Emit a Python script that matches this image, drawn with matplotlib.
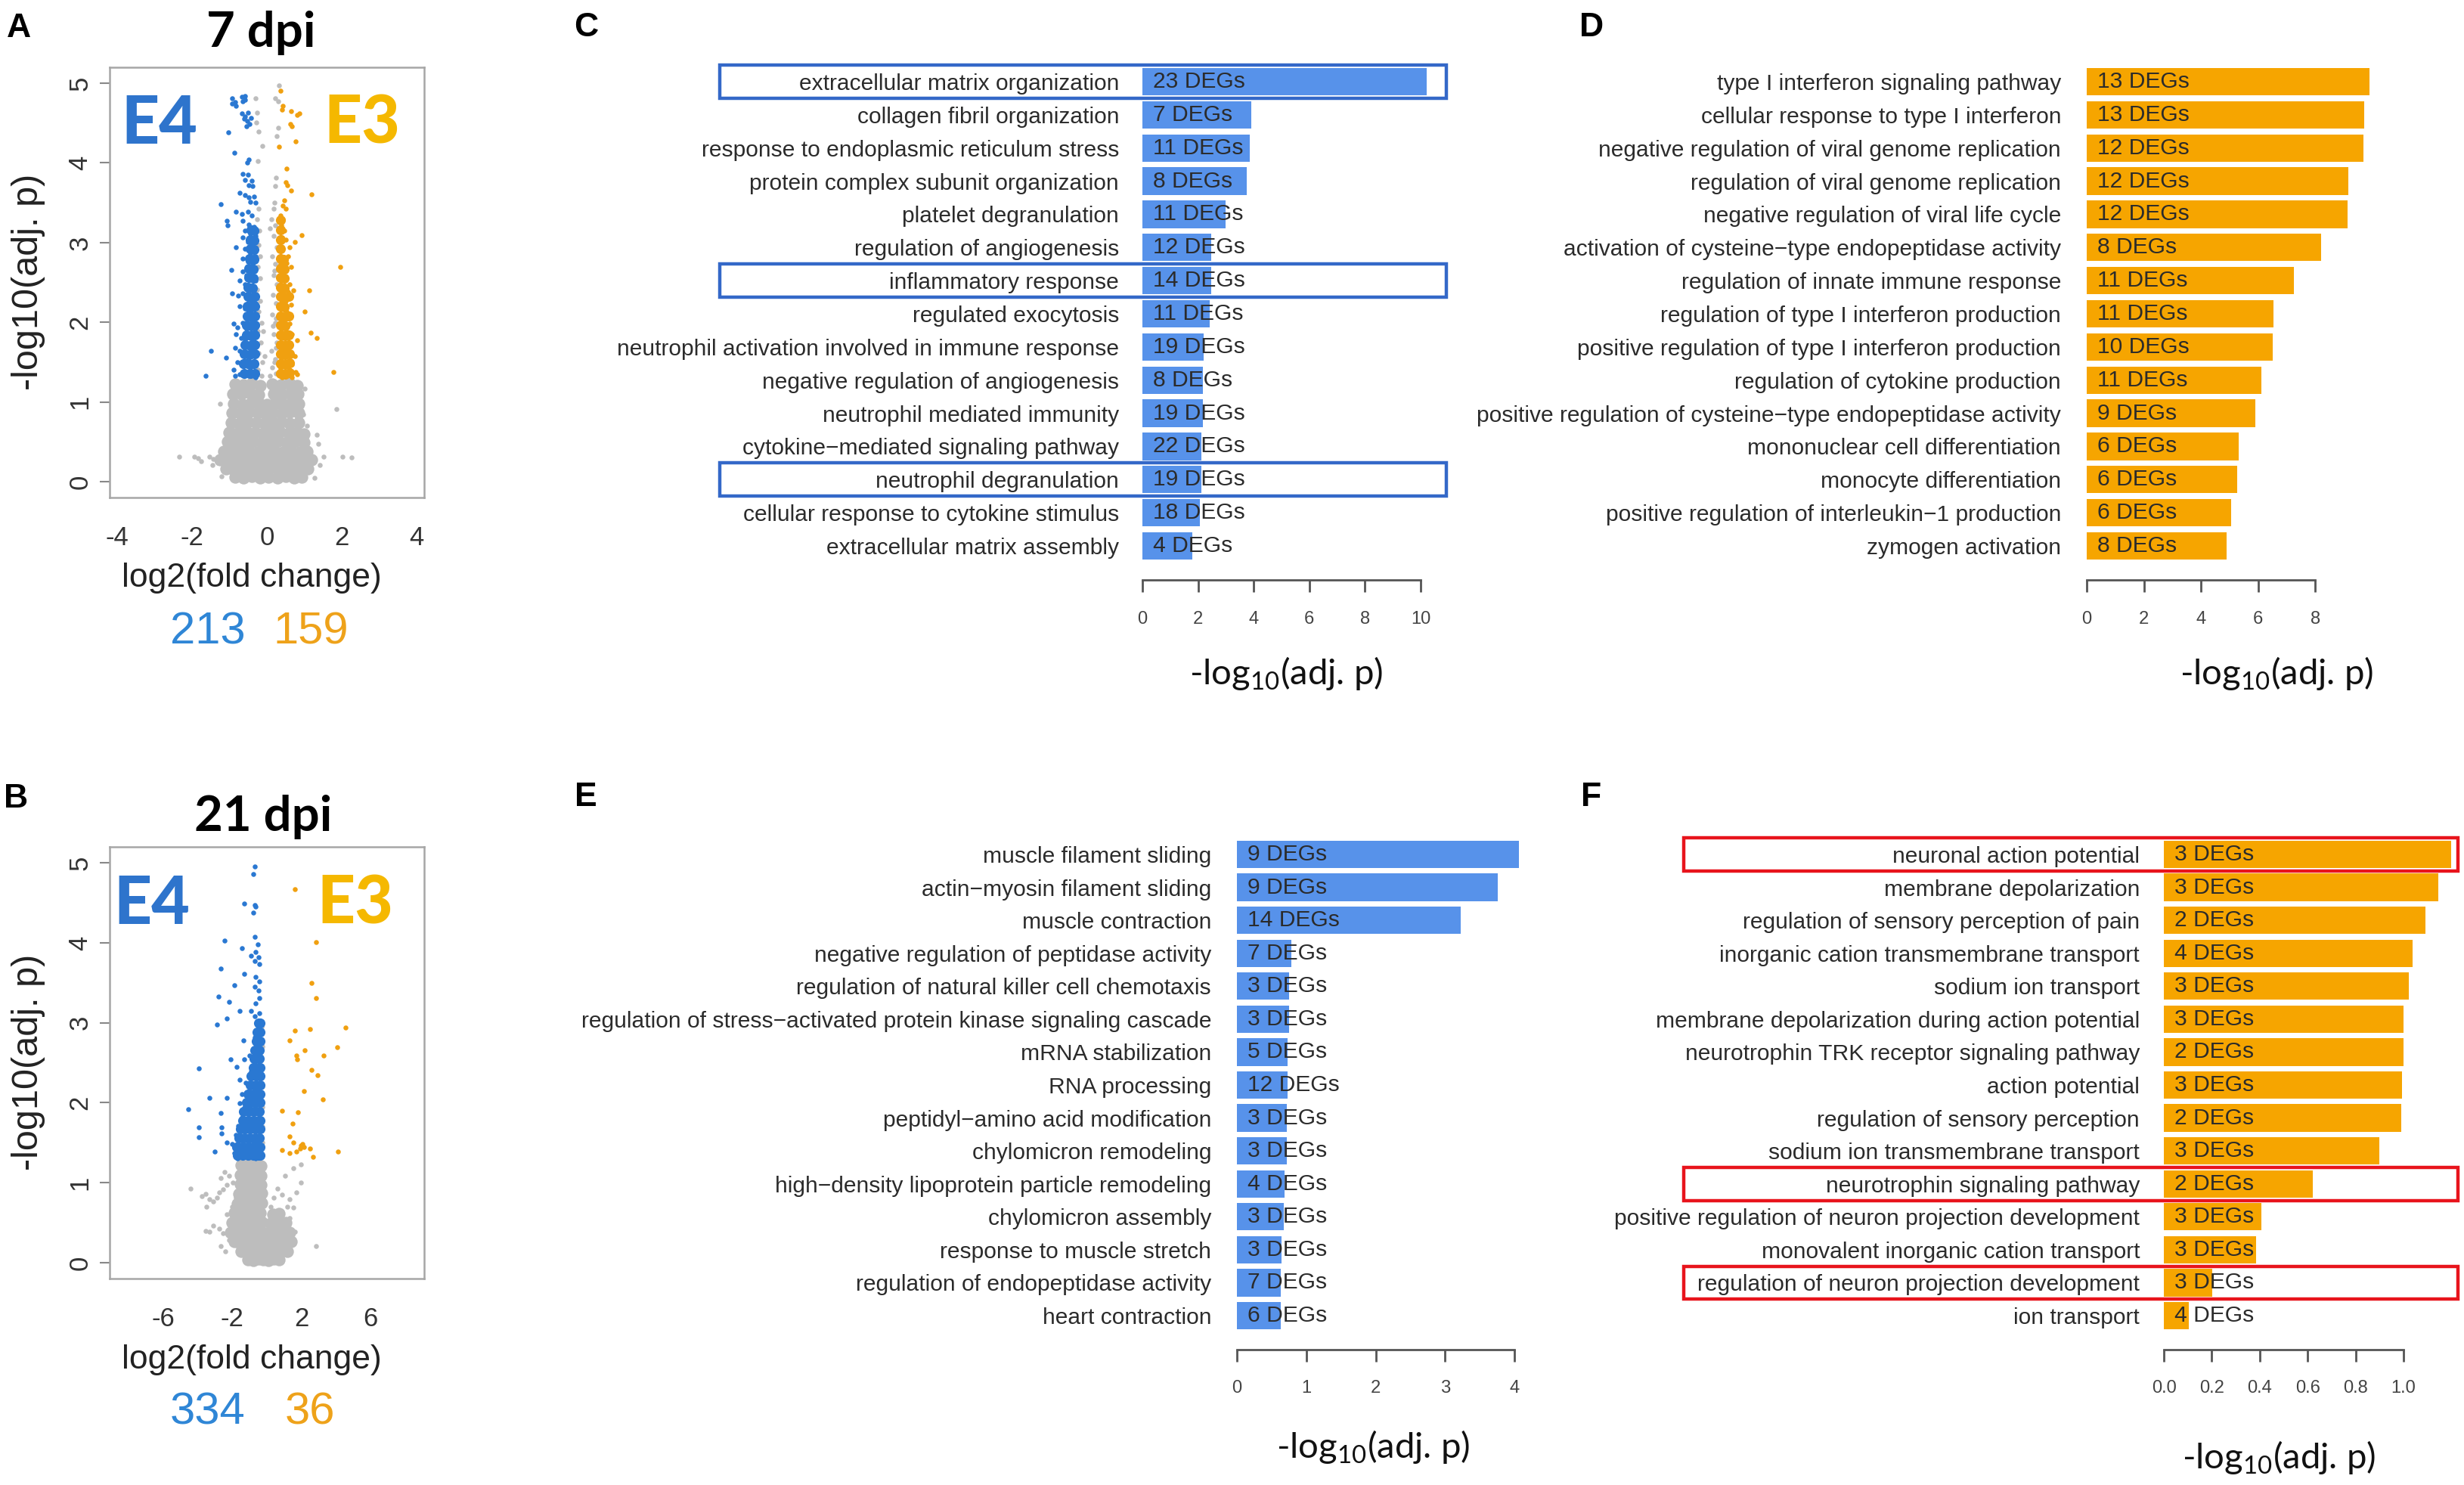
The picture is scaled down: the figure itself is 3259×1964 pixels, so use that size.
import numpy as np
import matplotlib
matplotlib.use("Agg")
import matplotlib.pyplot as plt
from matplotlib.patches import Rectangle
from matplotlib import font_manager as fm
import matplotlib.transforms as mtrans

# ---------------------------------------------------------------- data
c_terms = ["extracellular matrix organization", "collagen fibril organization",
           "response to endoplasmic reticulum stress", "protein complex subunit organization",
           "platelet degranulation", "regulation of angiogenesis", "inflammatory response",
           "regulated exocytosis", "neutrophil activation involved in immune response",
           "negative regulation of angiogenesis", "neutrophil mediated immunity",
           "cytokine\u2212mediated signaling pathway", "neutrophil degranulation",
           "cellular response to cytokine stimulus", "extracellular matrix assembly"]
c_vals = [10.22, 3.92, 3.86, 3.76, 2.99, 2.48, 2.48, 2.42, 2.21, 2.17, 2.17, 2.13, 2.13, 2.06, 1.80]
c_degs = [23, 7, 11, 8, 11, 12, 14, 11, 19, 8, 19, 22, 19, 18, 4]
c_boxes = [0, 6, 12]

d_terms = ["type I interferon signaling pathway", "cellular response to type I interferon",
           "negative regulation of viral genome replication", "regulation of viral genome replication",
           "negative regulation of viral life cycle",
           "activation of cysteine\u2212type endopeptidase activity",
           "regulation of innate immune response", "regulation of type I interferon production",
           "positive regulation of type I interferon production", "regulation of cytokine production",
           "positive regulation of cysteine\u2212type endopeptidase activity",
           "mononuclear cell differentiation", "monocyte differentiation",
           "positive regulation of interleukin\u22121 production", "zymogen activation"]
d_vals = [9.89, 9.72, 9.67, 9.15, 9.12, 8.21, 7.24, 6.54, 6.52, 6.11, 5.91, 5.32, 5.27, 5.05, 4.90]
d_degs = [13, 13, 12, 12, 12, 8, 11, 11, 10, 11, 9, 6, 6, 6, 8]

e_terms = ["muscle filament sliding", "actin\u2212myosin filament sliding", "muscle contraction",
           "negative regulation of peptidase activity", "regulation of natural killer cell chemotaxis",
           "regulation of stress\u2212activated protein kinase signaling cascade", "mRNA stabilization",
           "RNA processing", "peptidyl\u2212amino acid modification", "chylomicron remodeling",
           "high\u2212density lipoprotein particle remodeling", "chylomicron assembly",
           "response to muscle stretch", "regulation of endopeptidase activity", "heart contraction"]
e_vals = [4.06, 3.76, 3.22, 0.78, 0.75, 0.75, 0.73, 0.73, 0.72, 0.72, 0.69, 0.67, 0.64, 0.63, 0.63]
e_degs = [9, 9, 14, 7, 3, 3, 5, 12, 3, 3, 4, 3, 3, 7, 6]

f_terms = ["neuronal action potential", "membrane depolarization",
           "regulation of sensory perception of pain", "inorganic cation transmembrane transport",
           "sodium ion transport", "membrane depolarization during action potential",
           "neurotrophin TRK receptor signaling pathway", "action potential",
           "regulation of sensory perception", "sodium ion transmembrane transport",
           "neurotrophin signaling pathway", "positive regulation of neuron projection development",
           "monovalent inorganic cation transport", "regulation of neuron projection development",
           "ion transport"]
f_vals = [1.198, 1.144, 1.090, 1.038, 1.021, 1.001, 0.999, 0.994, 0.989, 0.898, 0.620, 0.406, 0.386, 0.202, 0.103]
f_degs = [3, 3, 2, 4, 3, 3, 2, 3, 2, 3, 2, 3, 3, 3, 4]
f_boxes = [0, 10, 13]

c_ticks = [0, 2, 4, 6, 8, 10]
d_ticks = [0, 2, 4, 6, 8]
e_ticks = [0, 1, 2, 3, 4]
f_ticks = [0.0, 0.2, 0.4, 0.6, 0.8, 1.0]

# volcano 7 dpi (log2 fold change, -log10 adj p)
a_gray = [(0.33, 4.97), (0.23, 4.81), (0.30, 4.77), (-0.31, 4.81), (-0.26, 4.63), (-0.28, 4.51),
          (-0.23, 4.39), (-0.12, 4.21), (-0.24, 4.02), (0.26, 4.34), (0.30, 4.44), (0.24, 3.81),
          (0.22, 3.71), (0.20, 3.50), (0.18, 3.43), (0.09, 3.18), (-0.23, 3.43), (-0.26, 3.29),
          (-0.21, 3.15), (0.13, 3.29), (0.23, 3.22), (0.18, 3.08), (0.26, 2.94), (0.15, 2.83),
          (0.23, 2.73), (0.18, 2.59), (0.26, 2.48), (0.16, 2.34), (0.24, 2.24), (0.15, 2.10),
          (0.23, 1.99), (0.18, 1.85), (0.26, 1.75), (0.13, 1.64), (0.22, 1.54), (0.15, 1.43),
          (0.24, 1.36), (0.09, 1.33), (0.20, 2.65), (0.25, 2.05), (0.20, 1.50), (0.25, 1.68),
          (0.17, 1.95), (-0.23, 2.97), (-0.18, 2.83), (-0.24, 2.69), (-0.19, 2.55), (-0.26, 2.41),
          (-0.18, 2.27), (-0.23, 2.13), (-0.14, 1.99), (-0.24, 1.89), (-0.16, 1.75), (-0.23, 1.61),
          (-0.12, 1.50), (-0.24, 1.40), (-0.14, 1.33), (-0.11, 1.89), (-0.07, 1.57),
          (-2.34, 0.31), (-1.93, 0.31), (-1.83, 0.29), (-1.76, 0.26), (-1.53, 0.31), (-1.43, 0.28),
          (-1.46, 0.21), (-1.32, 0.24), (-1.22, 0.07), (-1.26, 0.98), (-0.95, 1.07), (-0.99, 0.73),
          (-0.95, 0.59), (-1.05, 0.42), (-1.12, 0.35), (1.85, 0.91), (2.02, 0.31), (2.26, 0.30),
          (1.34, 0.59), (1.38, 0.47), (1.28, 0.05), (1.01, 1.17), (0.84, 1.08), (0.91, 1.12),
          (1.51, 0.31), (1.41, 0.21), (1.18, 0.24), (1.11, 0.42), (1.07, 0.70), (0.97, 0.84),
          (0.91, 0.94), (0.82, 0.07), (0.80, 1.05)]
a_gray_core = [(-0.85, 1.22), (-0.62, 1.21), (-0.40, 1.23), (-0.18, 1.20), (0.15, 1.22), (0.38, 1.21),
               (0.60, 1.23), (0.80, 1.20), (-0.90, 1.10), (-0.68, 1.10), (-0.45, 1.11), (-0.22, 1.09),
               (0.18, 1.10), (0.40, 1.09), (0.62, 1.11), (0.82, 1.10), (-0.88, 0.98), (-0.65, 0.97),
               (-0.42, 0.99), (-0.20, 0.98), (0.00, 0.97), (0.20, 0.98), (0.42, 0.97), (0.65, 0.99),
               (0.85, 0.98), (-0.92, 0.86), (-0.70, 0.85), (-0.48, 0.87), (-0.25, 0.86), (-0.05, 0.85),
               (0.15, 0.86), (0.38, 0.85), (0.60, 0.87), (0.85, 0.86), (-0.95, 0.74), (-0.72, 0.73),
               (-0.50, 0.75), (-0.28, 0.74), (-0.06, 0.73), (0.16, 0.74), (0.38, 0.75), (0.60, 0.73),
               (0.85, 0.74), (-1.00, 0.62), (-0.78, 0.61), (-0.55, 0.63), (-0.32, 0.62), (-0.10, 0.61),
               (0.12, 0.62), (0.35, 0.63), (0.58, 0.61), (0.80, 0.62), (0.98, 0.60), (-1.05, 0.50),
               (-0.82, 0.49), (-0.60, 0.51), (-0.38, 0.50), (-0.15, 0.49), (0.08, 0.50), (0.30, 0.51),
               (0.52, 0.49), (0.75, 0.50), (0.98, 0.49), (-1.15, 0.38), (-0.92, 0.37), (-0.70, 0.39),
               (-0.48, 0.38), (-0.25, 0.37), (-0.02, 0.38), (0.20, 0.39), (0.42, 0.37), (0.65, 0.38),
               (0.88, 0.37), (1.08, 0.38), (-1.25, 0.27), (-1.02, 0.26), (-0.80, 0.28), (-0.58, 0.27),
               (-0.35, 0.26), (-0.12, 0.27), (0.10, 0.28), (0.32, 0.26), (0.55, 0.27), (0.78, 0.28),
               (1.00, 0.26), (1.20, 0.27), (-1.10, 0.16), (-0.88, 0.15), (-0.65, 0.17), (-0.42, 0.16),
               (-0.20, 0.15), (0.02, 0.16), (0.25, 0.17), (0.48, 0.15), (0.70, 0.16), (0.92, 0.15),
               (1.10, 0.16), (-0.85, 0.06), (-0.62, 0.05), (-0.40, 0.07), (-0.18, 0.05), (0.05, 0.06),
               (0.28, 0.05), (0.50, 0.07), (0.72, 0.05), (0.92, 0.06)]
a_blue = [(-0.92, 4.81), (-0.85, 4.76), (-0.93, 4.74), (-0.82, 4.72), (-0.66, 4.83), (-0.59, 4.84),
          (-0.58, 4.79), (-0.65, 4.77), (-0.66, 4.62), (-0.58, 4.58), (-0.50, 4.63), (-0.61, 4.55),
          (-0.53, 4.53), (-0.46, 4.49), (-0.55, 4.46), (-0.43, 4.56), (-1.03, 4.38), (-0.87, 4.13),
          (-0.48, 4.04), (-0.53, 4.00), (-0.65, 3.86), (-0.50, 3.85), (-0.58, 3.79), (-0.41, 3.78),
          (-0.48, 3.72), (-0.38, 3.71), (-0.72, 3.62), (-0.58, 3.60), (-0.48, 3.57), (-0.34, 3.58),
          (-0.45, 3.51), (-0.31, 3.50), (-1.24, 3.48), (-0.82, 3.39), (-0.66, 3.36), (-0.51, 3.39),
          (-0.40, 3.34), (-1.07, 3.27), (-1.04, 3.22), (-0.65, 3.27), (-0.48, 3.23), (-0.34, 3.20),
          (-0.58, 3.15), (-0.45, 3.11), (-0.31, 3.08), (-0.65, 3.06), (-0.51, 3.01), (-0.38, 2.97),
          (-0.83, 2.94), (-0.58, 2.92), (-0.45, 2.87), (-0.31, 2.83), (-0.65, 2.80), (-0.51, 2.76),
          (-0.38, 2.73), (-0.95, 2.66), (-0.65, 2.64), (-0.55, 2.59), (-0.41, 2.57), (-0.31, 2.52),
          (-0.72, 2.52), (-0.58, 2.48), (-0.46, 2.45), (-0.34, 2.41), (-0.92, 2.36), (-0.77, 2.33),
          (-0.65, 2.36), (-0.51, 2.31), (-0.39, 2.27), (-0.31, 2.24), (-0.72, 2.20), (-0.58, 2.17),
          (-0.45, 2.13), (-0.34, 2.10), (-0.89, 1.98), (-0.78, 1.94), (-0.65, 1.99), (-0.55, 1.92),
          (-0.43, 1.96), (-0.32, 1.91), (-0.82, 1.85), (-0.68, 1.80), (-0.58, 1.77), (-0.48, 1.84),
          (-0.38, 1.78), (-0.31, 1.73), (-0.85, 1.68), (-0.72, 1.64), (-0.61, 1.70), (-0.51, 1.61),
          (-0.41, 1.66), (-0.32, 1.59), (-1.49, 1.64), (-1.09, 1.56), (-0.89, 1.40), (-0.78, 1.50),
          (-0.65, 1.45), (-0.55, 1.52), (-0.45, 1.43), (-0.34, 1.49), (-1.63, 1.33), (-0.85, 1.33),
          (-0.72, 1.35), (-0.58, 1.36), (-0.48, 1.33), (-0.38, 1.35), (-0.31, 1.31)]
a_blue_core = [(-0.60, 1.36), (-0.45, 1.36), (-0.33, 1.36), (-0.62, 1.48), (-0.47, 1.47), (-0.34, 1.48),
               (-0.60, 1.60), (-0.46, 1.59), (-0.33, 1.60), (-0.58, 1.72), (-0.45, 1.71), (-0.33, 1.72),
               (-0.55, 1.84), (-0.43, 1.83), (-0.33, 1.84), (-0.55, 1.96), (-0.43, 1.95), (-0.33, 1.96),
               (-0.52, 2.08), (-0.40, 2.07), (-0.32, 2.08), (-0.52, 2.20), (-0.40, 2.19), (-0.32, 2.20),
               (-0.50, 2.32), (-0.40, 2.31), (-0.32, 2.32), (-0.50, 2.44), (-0.38, 2.43), (-0.48, 2.56),
               (-0.36, 2.55), (-0.48, 2.68), (-0.36, 2.67), (-0.46, 2.80), (-0.35, 2.79), (-0.45, 2.92),
               (-0.35, 2.91), (-0.44, 3.04), (-0.35, 3.03), (-0.42, 3.16), (-0.34, 3.15)]
a_orange = [(0.36, 4.91), (0.43, 4.72), (0.40, 4.67), (0.64, 4.65), (0.80, 4.60), (0.87, 4.62),
            (0.62, 4.49), (0.67, 4.46), (0.77, 4.27), (0.33, 4.20), (0.53, 3.93), (0.50, 3.76),
            (0.55, 3.72), (0.64, 3.65), (1.19, 3.61), (0.47, 3.53), (0.42, 3.46), (0.50, 3.43),
            (0.36, 3.34), (0.43, 3.29), (0.38, 3.22), (0.47, 3.15), (0.92, 3.09), (0.40, 3.06),
            (0.50, 3.04), (0.74, 3.01), (0.60, 2.94), (0.36, 2.94), (0.57, 2.83), (0.43, 2.80),
            (0.36, 2.73), (0.53, 2.74), (0.64, 2.69), (1.95, 2.69), (0.40, 2.60), (0.50, 2.55),
            (0.60, 2.48), (0.36, 2.48), (0.47, 2.41), (0.57, 2.38), (0.70, 2.40), (1.14, 2.40),
            (0.36, 2.31), (0.50, 2.27), (0.64, 2.22), (0.42, 2.17), (0.53, 2.13), (1.01, 2.13),
            (0.36, 2.08), (0.47, 2.03), (0.60, 1.98), (0.38, 1.92), (0.50, 1.89), (0.67, 1.85),
            (1.18, 1.87), (1.34, 1.80), (0.40, 1.80), (0.57, 1.75), (0.80, 1.77), (0.36, 1.68),
            (0.49, 1.64), (0.64, 1.61), (0.74, 1.57), (0.38, 1.54), (0.53, 1.50), (0.67, 1.47),
            (0.36, 1.42), (0.47, 1.38), (0.60, 1.40), (0.77, 1.38), (1.78, 1.38), (0.40, 1.31),
            (0.53, 1.33), (0.67, 1.31), (0.80, 1.35)]
a_orange_core = [(0.36, 1.36), (0.48, 1.35), (0.60, 1.37), (0.36, 1.48), (0.48, 1.47), (0.60, 1.49),
                 (0.36, 1.60), (0.48, 1.59), (0.60, 1.60), (0.36, 1.72), (0.48, 1.71), (0.58, 1.72),
                 (0.36, 1.84), (0.48, 1.83), (0.58, 1.84), (0.36, 1.96), (0.48, 1.95), (0.36, 2.08),
                 (0.48, 2.07), (0.58, 2.08), (0.36, 2.20), (0.47, 2.19), (0.36, 2.32), (0.47, 2.31),
                 (0.58, 2.32), (0.36, 2.44), (0.47, 2.43), (0.36, 2.56), (0.46, 2.55), (0.36, 2.68),
                 (0.46, 2.67), (0.36, 2.80), (0.44, 2.79), (0.36, 2.92), (0.36, 3.04), (0.36, 3.16),
                 (0.37, 3.28)]

# volcano 21 dpi
b_gray = [(-4.42, 0.93), (-3.77, 0.83), (-3.55, 0.86), (-3.33, 0.79), (-3.48, 0.70), (-3.11, 0.76),
          (-2.90, 0.81), (-2.75, 0.88), (-2.53, 0.92), (-2.46, 1.13), (-2.68, 1.06), (-2.17, 1.09),
          (-1.95, 1.00), (-2.31, 0.97), (-3.55, 0.40), (-3.33, 0.39), (-3.11, 0.46), (-2.75, 0.42),
          (-2.53, 0.37), (-2.68, 0.21), (-2.39, 0.14), (-2.17, 0.28), (-2.31, 0.60), (-2.02, 0.70),
          (-1.95, 0.53), (-1.80, 0.81), (1.03, 1.09), (1.54, 1.18), (1.98, 1.23), (1.98, 1.00),
          (1.69, 0.88), (0.60, 0.93), (0.89, 0.85), (1.32, 0.79), (1.54, 0.69), (1.32, 0.56),
          (1.62, 0.39), (2.85, 0.21), (1.32, 0.12), (0.38, 0.81), (0.23, 0.70), (1.18, 0.70),
          (-0.30, 2.95), (-0.28, 2.70), (-0.30, 2.45), (-0.27, 2.20), (-0.28, 1.95), (-0.27, 1.70),
          (-0.28, 1.50), (-0.27, 1.35)]
b_gray_core = [(-1.50, 1.22), (-1.20, 1.21), (-0.90, 1.23), (-0.60, 1.22), (-0.35, 1.21),
               (-1.55, 1.10), (-1.25, 1.09), (-0.95, 1.11), (-0.65, 1.10), (-0.35, 1.09),
               (-1.55, 0.98), (-1.25, 0.97), (-0.95, 0.99), (-0.65, 0.98), (-0.35, 0.97),
               (-1.60, 0.86), (-1.30, 0.85), (-1.00, 0.87), (-0.70, 0.86), (-0.40, 0.85), (-0.30, 0.87),
               (-1.70, 0.74), (-1.40, 0.73), (-1.10, 0.75), (-0.80, 0.74), (-0.50, 0.73), (-0.30, 0.75),
               (-1.90, 0.62), (-1.60, 0.61), (-1.30, 0.63), (-1.00, 0.62), (-0.70, 0.61), (-0.40, 0.62),
               (0.35, 0.60), (0.70, 0.61), (-2.00, 0.50), (-1.70, 0.49), (-1.40, 0.51), (-1.10, 0.50),
               (-0.80, 0.49), (-0.50, 0.50), (-0.30, 0.51), (0.20, 0.49), (0.50, 0.50), (0.80, 0.51),
               (1.10, 0.50), (-2.10, 0.38), (-1.80, 0.37), (-1.50, 0.39), (-1.20, 0.38), (-0.90, 0.37),
               (-0.60, 0.38), (-0.30, 0.39), (0.10, 0.37), (0.40, 0.38), (0.70, 0.39), (1.00, 0.37),
               (1.30, 0.38), (-1.90, 0.26), (-1.60, 0.25), (-1.30, 0.27), (-1.00, 0.26), (-0.70, 0.25),
               (-0.40, 0.26), (-0.10, 0.27), (0.20, 0.25), (0.50, 0.26), (0.80, 0.27), (1.10, 0.25),
               (1.40, 0.26), (-1.50, 0.14), (-1.20, 0.13), (-0.90, 0.15), (-0.60, 0.14), (-0.30, 0.13),
               (0.00, 0.15), (0.30, 0.14), (0.60, 0.13), (0.90, 0.15), (1.20, 0.14), (-1.10, 0.04),
               (-0.80, 0.03), (-0.50, 0.05), (-0.20, 0.04), (0.10, 0.03), (0.40, 0.05), (0.70, 0.04)]
b_blue = [(-0.71, 4.95), (-0.79, 4.86), (-1.32, 4.49), (-0.71, 4.47), (-0.79, 4.38), (-0.64, 4.45),
          (-2.46, 4.03), (-0.71, 4.07), (-0.54, 3.98), (-1.44, 3.93), (-0.64, 3.89), (-0.93, 3.84),
          (-0.49, 3.82), (-0.71, 3.77), (-0.42, 3.73), (-2.68, 3.68), (-1.30, 3.61), (-0.64, 3.57),
          (-0.42, 3.52), (-1.88, 3.47), (-0.71, 3.45), (-0.49, 3.40), (-2.82, 3.33), (-0.42, 3.31),
          (-2.20, 3.26), (-0.64, 3.24), (-1.59, 3.15), (-0.93, 3.15), (-0.42, 3.12), (-0.71, 3.08),
          (-2.34, 3.05), (-2.90, 2.98), (-0.49, 2.98), (-0.42, 2.85), (-0.71, 2.82), (-1.37, 2.78),
          (-0.42, 2.73), (-0.64, 2.66), (-1.00, 2.59), (-0.42, 2.61), (-2.10, 2.54), (-1.30, 2.54),
          (-0.71, 2.50), (-0.42, 2.46), (-3.92, 2.43), (-1.73, 2.45), (-0.93, 2.39), (-0.57, 2.36),
          (-0.35, 2.31), (-1.59, 2.29), (-1.22, 2.25), (-0.79, 2.22), (-0.49, 2.18), (-1.44, 2.11),
          (-1.00, 2.10), (-0.64, 2.06), (-0.42, 2.02), (-3.33, 2.06), (-2.34, 2.06), (-4.57, 1.92),
          (-2.68, 1.87), (-1.59, 1.99), (-1.30, 1.94), (-0.93, 1.92), (-0.57, 1.88), (-1.44, 1.81),
          (-1.08, 1.78), (-0.71, 1.76), (-0.42, 1.80), (-3.94, 1.69), (-2.61, 1.69), (-1.66, 1.71),
          (-1.30, 1.67), (-0.86, 1.65), (-0.49, 1.64), (-3.94, 1.57), (-2.61, 1.62), (-1.80, 1.60),
          (-1.44, 1.55), (-1.08, 1.53), (-0.71, 1.51), (-0.35, 1.55), (-2.31, 1.50), (-2.02, 1.48),
          (-1.66, 1.44), (-1.30, 1.43), (-0.93, 1.41), (-0.57, 1.43), (-3.04, 1.39), (-1.88, 1.37),
          (-1.51, 1.34), (-1.15, 1.32), (-0.79, 1.34), (-0.42, 1.32), (-1.70, 1.30), (-0.64, 1.30)]
b_blue_core = [(-1.70, 1.34), (-1.40, 1.34), (-1.10, 1.34), (-0.80, 1.34), (-0.50, 1.34), (-0.38, 1.34),
               (-1.75, 1.45), (-1.45, 1.45), (-1.15, 1.45), (-0.85, 1.45), (-0.55, 1.45), (-0.38, 1.45),
               (-1.60, 1.56), (-1.30, 1.56), (-1.00, 1.56), (-0.70, 1.56), (-0.42, 1.56),
               (-1.55, 1.67), (-1.25, 1.67), (-0.95, 1.67), (-0.65, 1.67), (-0.40, 1.67),
               (-1.40, 1.78), (-1.10, 1.78), (-0.80, 1.78), (-0.50, 1.78), (-0.38, 1.78),
               (-1.35, 1.89), (-1.05, 1.89), (-0.75, 1.89), (-0.45, 1.89),
               (-1.20, 2.00), (-0.90, 2.00), (-0.60, 2.00), (-0.40, 2.00),
               (-1.10, 2.11), (-0.80, 2.11), (-0.50, 2.11), (-0.38, 2.11),
               (-0.95, 2.22), (-0.65, 2.22), (-0.40, 2.22), (-0.90, 2.33), (-0.60, 2.33), (-0.40, 2.33),
               (-0.80, 2.44), (-0.50, 2.44), (-0.38, 2.44), (-0.75, 2.55), (-0.45, 2.55),
               (-0.70, 2.66), (-0.42, 2.66), (-0.60, 2.77), (-0.40, 2.77), (-0.55, 2.88), (-0.38, 2.88),
               (-0.50, 3.00), (-0.38, 3.00)]
b_orange = [(1.62, 4.67), (2.85, 4.01), (2.56, 3.50), (2.85, 3.31), (1.62, 2.90), (2.49, 2.92),
            (4.53, 2.94), (1.30, 2.78), (2.20, 2.66), (1.69, 2.59), (1.76, 2.54), (3.29, 2.59),
            (4.09, 2.69), (2.56, 2.41), (2.93, 2.34), (2.13, 2.15), (3.25, 2.04), (0.89, 1.90),
            (1.79, 1.88), (1.47, 1.74), (1.32, 1.58), (1.54, 1.50), (2.05, 1.48), (1.91, 1.43),
            (0.89, 1.41), (1.32, 1.37), (2.49, 1.43), (2.66, 1.32), (4.12, 1.39), (2.13, 1.45),
            (1.69, 1.39), (1.98, 1.46)]

# ---------------------------------------------------------------- setup
W, H, DPI = 3259, 1964, 100
PT = 72.0 / DPI

names = {f.name for f in fm.fontManager.ttflist}
SANS = "Liberation Sans" if "Liberation Sans" in names else "DejaVu Sans"
if "Liberation Sans Narrow" in names:
    NARROW, NSCALE = "Liberation Sans Narrow", 1.11
else:
    NARROW, NSCALE = SANS, 0.9
CAL = "Lato" if "Lato" in names else SANS

plt.rcParams["mathtext.default"] = "regular"
fig = plt.figure(figsize=(W / DPI, H / DPI), dpi=DPI)
fig.patch.set_facecolor("white")

TXT = "#2b2b2b"
AXC = "#555555"
LAB_FS = 24 * NSCALE
TICK_FS = 19 * NSCALE
GRAY = "#bdbdbd"
BLUE = "#2a78d2"
ORANGE = "#f0a010"


def add_ax(x0, y0, x1, y1):
    return fig.add_axes([x0 / W, 1 - y1 / H, (x1 - x0) / W, (y1 - y0) / H])


def ftext(x, y, s, **kw):
    return fig.text(x / W, 1 - y / H, s, **kw)


def bar_panel(terms, vals, degs, color, zero_px, ppu, row_top, row_bot, right_px,
              axis_px, tmax, ticks, tlabels, tick_base, gap, boxes, box_color, box_x0, box_x1,
              xlab_x, xlab_base):
    n = len(terms)
    sp = (row_bot - row_top) / (n - 1)
    top = row_top - 0.5 * sp
    bot = row_bot + 0.5 * sp
    ax = add_ax(zero_px, top, right_px, bot)
    ax.set_xlim(0, (right_px - zero_px) / ppu)
    ax.set_ylim(n - 0.5, -0.5)
    ax.patch.set_alpha(0)
    pos = np.arange(n)
    ax.barh(pos, vals, height=0.83, color=color, edgecolor="none", zorder=2)
    ax.set_yticks(pos)
    ax.set_yticklabels(terms, fontsize=LAB_FS, family=NARROW, color=TXT)
    ax.tick_params(axis="y", length=0, pad=gap * PT)
    for s in ("left", "top", "right"):
        ax.spines[s].set_visible(False)
    spb = ax.spines["bottom"]
    spb.set_position(("outward", (axis_px - bot) * PT))
    spb.set_bounds(0, tmax)
    spb.set_color(AXC)
    spb.set_linewidth(2.0)
    ax.set_xticks(ticks)
    ax.set_xticklabels([])
    ax.tick_params(axis="x", direction="out", length=16 * PT, width=2.0, color=AXC)
    tr = mtrans.blended_transform_factory(ax.transData, fig.transFigure)
    for t, l in zip(ticks, tlabels):
        ax.text(t, 1 - tick_base / H, l, transform=tr, ha="center", va="baseline",
                fontsize=TICK_FS, family=NARROW, color="#444444")
    for i, d in enumerate(degs):
        ax.annotate(f"{d} DEGs", xy=(0, i), xytext=(14 * PT, 0), textcoords="offset points",
                    ha="left", va="center", fontsize=LAB_FS, family=NARROW, color=TXT, zorder=3)
    bx0 = (box_x0 - zero_px) / ppu
    bx1 = (box_x1 - zero_px) / ppu
    for i in boxes:
        ax.add_patch(Rectangle((bx0, i - 0.5), bx1 - bx0, 1.0, fill=False, edgecolor=box_color,
                               lw=3.2, clip_on=False, zorder=4))
    ftext(xlab_x, xlab_base, "-log$_{10}$(adj. p)", ha="center", va="baseline",
          fontsize=34, family=CAL, color="#111111")
    return ax


def volcano(x0, y0, x1, y1, xlim, xticks, gray, gray_core, blue, blue_core, orange, orange_core,
            ytick_x, xtick_base):
    ax = add_ax(x0, y0, x1, y1)
    ax.set_xlim(*xlim)
    ax.set_ylim(-0.2, 5.2)

    def sc(pts, s, c):
        if len(pts) == 0:
            return
        a = np.asarray(pts, float)
        ax.scatter(a[:, 0], a[:, 1], s=s, c=c, linewidths=0, zorder=2)

    sc(gray_core, 140, GRAY)
    sc(gray, 22, GRAY)
    sc(blue_core, 90, BLUE)
    sc(blue, 22, BLUE)
    sc(orange_core, 90, ORANGE)
    sc(orange, 22, ORANGE)
    for s in ax.spines.values():
        s.set_color("#a6a6a6")
        s.set_linewidth(1.8)
    ax.set_yticks(range(6))
    ax.set_yticklabels([])
    ax.tick_params(axis="y", direction="out", length=13 * PT, width=1.5, color="#888888")
    ax.set_xticks(xticks)
    ax.set_xticklabels([])
    ax.tick_params(axis="x", length=0)
    tr_y = mtrans.blended_transform_factory(fig.transFigure, ax.transData)
    for v in range(6):
        ax.text(ytick_x / W, v, str(v), transform=tr_y, rotation=90, ha="center", va="center",
                fontsize=25, family=SANS, color="#333333")
    tr_x = mtrans.blended_transform_factory(ax.transData, fig.transFigure)
    for v in xticks:
        ax.text(v, 1 - xtick_base / H, f"{v:d}", transform=tr_x, ha="center", va="baseline",
                fontsize=25, family=SANS, color="#333333")
    return ax


# ---------------------------------------------------------------- volcano A / B
volcano(145, 89, 561, 658, (-4.2, 4.2), [-4, -2, 0, 2, 4], a_gray, a_gray_core, a_blue,
        a_blue_core, a_orange, a_orange_core, 106, 721)
volcano(145, 1120, 561, 1691, (-9.1, 9.1), [-6, -2, 2, 6], b_gray, b_gray_core, b_blue,
        b_blue_core, b_orange, [], 106, 1754)

for (x4, x3, base) in [(211, 479, 190), (201, 470, 1222)]:
    ftext(x4, base, "E4", ha="center", va="baseline", fontsize=63, fontweight=900,
          family=CAL, color="#2e74cc")
    ftext(x3, base, "E3", ha="center", va="baseline", fontsize=63, fontweight=900,
          family=CAL, color="#f5b800")

ftext(345, 62, "7 dpi", ha="center", va="baseline", fontsize=47, fontweight="bold", family=CAL)
ftext(348, 1099, "21 dpi", ha="center", va="baseline", fontsize=47, fontweight="bold", family=CAL)
for base in (776, 1810):
    ftext(333, base, "log2(fold change)", ha="center", va="baseline", fontsize=32, family=SANS,
          color="#222222")
for yc in (373, 1405):
    ftext(37, yc, "-log10(adj. p)", ha="center", va="center", rotation=90, fontsize=35,
          family=SANS, color="#222222")
ftext(275, 852, "213", ha="center", va="baseline", fontsize=43, family=SANS, color="#2f86d6")
ftext(411, 852, "159", ha="center", va="baseline", fontsize=43, family=SANS, color="#eea21a")
ftext(275, 1884, "334", ha="center", va="baseline", fontsize=43, family=SANS, color="#2f86d6")
ftext(410, 1884, "36", ha="center", va="baseline", fontsize=43, family=SANS, color="#eea21a")

# ---------------------------------------------------------------- bar panels
BAR_BLUE = "#5792ea"
BAR_OR = "#f6a500"
bar_panel(c_terms, c_vals, c_degs, BAR_BLUE, 1511, 36.8, 108, 722, 1916, 767, 10, c_ticks,
          [str(t) for t in c_ticks], 825, 31, c_boxes, "#3468c8", 952, 1913, 1701, 905)
bar_panel(d_terms, d_vals, d_degs, BAR_OR, 2760, 37.8, 108, 722, 3150, 767, 8, d_ticks,
          [str(t) for t in d_ticks], 825, 34, [], "#3468c8", 0, 0, 3011, 905)
bar_panel(e_terms, e_vals, e_degs, BAR_BLUE, 1636, 91.8, 1130, 1740, 2020, 1785, 4, e_ticks,
          [str(t) for t in e_ticks], 1842, 34, [], "#3468c8", 0, 0, 1816, 1928)
bar_panel(f_terms, f_vals, f_degs, BAR_OR, 2862, 317.0, 1130, 1740, 3253, 1785, 1.0, f_ticks,
          [f"{t:.1f}" for t in f_ticks], 1842, 32, f_boxes, "#e8141c", 2227, 3251, 3014, 1942)

# ---------------------------------------------------------------- panel letters
for (x, y, s) in [(25, 49, "A"), (21, 1068, "B"), (775, 48, "C"), (2105, 48, "D"),
                  (775, 1066, "E"), (2105, 1066, "F")]:
    ftext(x, y, s, ha="center", va="baseline", fontsize=32, fontweight="bold", family=SANS)

fig.savefig("out.png", dpi=DPI, facecolor="white")
